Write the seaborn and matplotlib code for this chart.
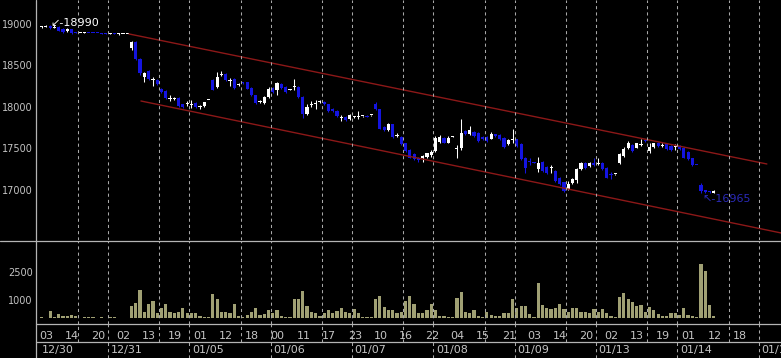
import numpy as np
import pandas as pd
import matplotlib
matplotlib.use("Agg")
import matplotlib.pyplot as plt
import seaborn as sns
from matplotlib.lines import Line2D

# -----------------------------
# Hourly bars 12/30 - 01/14
# -----------------------------
opens = [18965, 18968, 18975, 18955, 18965, 18945, 18910, 18940, 18900, 18892,
         18895, 18893, 18892, 18889, 18888, 18886, 18884, 18886, 18878, 18879,
         18876, 18710, 18780, 18580, 18360, 18430, 18330, 18330, 18220, 18190,
         18095, 18100, 18110, 18030, 18035, 18020, 18050, 18005, 18010, 18085,
         18330, 18240, 18390, 18400, 18310, 18340, 18265, 18300, 18295, 18230,
         18140, 18060, 18050, 18120, 18230, 18210, 18280, 18240, 18205, 18245,
         18240, 18120, 17910, 18020, 18035, 18060, 18060, 18030, 17980, 17950,
         17865, 17880, 17850, 17880, 17875, 17888, 17895, 17898, 18030, 17970,
         17760, 17720, 17790, 17645, 17640, 17560, 17480, 17430, 17390, 17380,
         17400, 17420, 17470, 17580, 17630, 17570, 17638, 17495, 17500, 17710,
         17670, 17700, 17690, 17640, 17640, 17620, 17670, 17660, 17630, 17550,
         17605, 17610, 17550, 17390, 17350, 17332, 17250, 17340, 17280, 17262,
         17230, 17150, 17090, 17010, 17080, 17120, 17250, 17330, 17290, 17330,
         17315, 17330, 17270, 17185, 17188, 17330, 17410, 17500, 17540, 17510,
         17545, 17595, 17470, 17520, 17570, 17535, 17550, 17530, 17515, 17530,
         17510, 17460, 17380, 17302, 17060, 16995, 16985, 16965]
highs = [18975, 18990, 18990, 18985, 18970, 18950, 18950, 18945, 18905, 18895,
         18898, 18895, 18894, 18890, 18889, 18887, 18888, 18887, 18895, 18882,
         18880, 18790, 18790, 18590, 18420, 18440, 18360, 18340, 18230, 18200,
         18140, 18115, 18115, 18035, 18075, 18080, 18055, 18025, 18065, 18090,
         18340, 18420, 18430, 18410, 18350, 18350, 18290, 18305, 18300, 18240,
         18150, 18080, 18130, 18240, 18240, 18300, 18290, 18250, 18215, 18340,
         18250, 18130, 18040, 18070, 18085, 18090, 18070, 18040, 17990, 17960,
         17900, 17890, 17910, 17895, 17950, 17895, 17900, 17905, 18060, 17980,
         17770, 17810, 17800, 17690, 17650, 17570, 17490, 17440, 17400, 17420,
         17450, 17480, 17650, 17660, 17640, 17650, 17645, 17540, 17850, 17720,
         17770, 17710, 17700, 17650, 17650, 17700, 17680, 17670, 17640, 17610,
         17740, 17620, 17560, 17400, 17390, 17335, 17400, 17350, 17290, 17300,
         17240, 17160, 17100, 17110, 17150, 17260, 17340, 17340, 17340, 17380,
         17380, 17340, 17280, 17220, 17192, 17440, 17520, 17590, 17550, 17570,
         17620, 17600, 17560, 17570, 17580, 17560, 17560, 17540, 17550, 17540,
         17520, 17470, 17390, 17305, 17080, 17000, 16990, 16995]
lows = [18955, 18960, 18945, 18950, 18915, 18895, 18905, 18885, 18888, 18890,
        18892, 18888, 18886, 18886, 18884, 18883, 18882, 18879, 18870, 18876,
        18874, 18690, 18570, 18390, 18300, 18330, 18250, 18270, 18170, 18100,
        18070, 18085, 18005, 17990, 18010, 17990, 17990, 17975, 18005, 18080,
        18200, 18230, 18370, 18310, 18250, 18220, 18255, 18280, 18215, 18130,
        18030, 18050, 18040, 18110, 18170, 18150, 18220, 18170, 18200, 18205,
        18110, 17870, 17900, 17995, 17980, 18050, 18020, 17940, 17940, 17880,
        17830, 17830, 17840, 17870, 17860, 17885, 17883, 17895, 17960, 17730,
        17710, 17710, 17630, 17640, 17540, 17460, 17380, 17360, 17340, 17340,
        17380, 17400, 17460, 17560, 17560, 17560, 17635, 17390, 17480, 17660,
        17660, 17640, 17580, 17600, 17580, 17610, 17640, 17600, 17510, 17540,
        17560, 17520, 17360, 17210, 17300, 17325, 17220, 17220, 17190, 17200,
        17100, 17060, 16980, 17000, 17070, 17080, 17240, 17250, 17280, 17290,
        17300, 17240, 17140, 17130, 17185, 17310, 17400, 17490, 17460, 17500,
        17530, 17580, 17440, 17510, 17520, 17520, 17480, 17470, 17480, 17480,
        17380, 17360, 17290, 17295, 16965, 16965, 16965, 16965]
closes = [18965, 18975, 18950, 18962, 18920, 18900, 18940, 18890, 18892, 18892,
          18895, 18890, 18888, 18887, 18885, 18884, 18886, 18880, 18881, 18880,
          18877, 18780, 18580, 18410, 18410, 18340, 18340, 18280, 18180, 18110,
          18105, 18108, 18015, 18000, 18045, 18030, 18000, 18015, 18060, 18088,
          18210, 18360, 18400, 18320, 18320, 18230, 18275, 18285, 18220, 18140,
          18050, 18070, 18120, 18220, 18180, 18290, 18230, 18180, 18210, 18255,
          18120, 17910, 18000, 18030, 18045, 18070, 18030, 17950, 17950, 17890,
          17875, 17840, 17900, 17885, 17885, 17892, 17885, 17902, 17970, 17740,
          17720, 17790, 17640, 17655, 17550, 17470, 17390, 17370, 17360, 17410,
          17440, 17460, 17630, 17640, 17570, 17630, 17642, 17505, 17690, 17670,
          17720, 17650, 17590, 17610, 17590, 17680, 17650, 17610, 17520, 17600,
          17615, 17530, 17370, 17270, 17335, 17328, 17330, 17230, 17200, 17272,
          17110, 17070, 16990, 17070, 17130, 17250, 17330, 17260, 17330, 17300,
          17325, 17250, 17150, 17175, 17190, 17430, 17490, 17560, 17470, 17560,
          17555, 17585, 17520, 17560, 17530, 17545, 17490, 17480, 17525, 17490,
          17390, 17370, 17300, 17298, 16990, 16975, 16970, 16985]
volumes = [40, 0, 380, 40, 200, 110, 110, 160, 110, 0,
           30, 30, 30, 0, 30, 0, 30, 30, 0, 0,
           0, 650, 840, 1530, 330, 780, 930, 260, 550, 770,
           330, 290, 350, 550, 290, 260, 260, 110, 60, 30,
           1310, 1040, 350, 350, 260, 770, 110, 40, 160, 350,
           530, 160, 200, 440, 260, 440, 110, 40, 30, 1040,
           1040, 1475, 650, 310, 260, 110, 290, 440, 260, 400,
           530, 350, 260, 480, 290, 40, 40, 30, 1020, 1200,
           600, 440, 440, 290, 350, 930, 1200, 770, 260, 260,
           440, 770, 440, 110, 110, 40, 30, 1075, 1400, 350,
           260, 440, 110, 40, 350, 160, 110, 110, 260, 260,
           1020, 530, 650, 650, 220, 40, 1930, 710, 560, 475,
           560, 765, 475, 350, 530, 530, 350, 350, 290, 475,
           350, 475, 290, 110, 30, 1130, 1365, 1040, 890, 650,
           710, 350, 580, 440, 220, 110, 110, 260, 260, 160,
           530, 160, 110, 30, 2950, 2585, 710, 110]

hour_labels = ["03", "14", "20", "02", "13", "19", "01", "12", "18", "00",
               "11", "17", "23", "10", "16", "22", "04", "15", "21", "03",
               "14", "20", "02", "13", "19", "01", "12", "18"]
date_labels = ["12/30", "12/31", "01/05", "01/06", "01/07", "01/08",
               "01/09", "01/13", "01/14", "01/15"]
day_start_bars = [0, 16, 35, 54, 73, 92, 111, 130, 149, 168]
session_bars = [9, 28, 47, 66, 85, 104, 123, 142, 161]

# trend channel (bar index, price)
upper_bars = [20.4, 169.4]
upper_prices = [18880, 17313]
lower_bars = [23.2, 172.7]
lower_prices = [18072, 16482]

price_ticks = [17000, 17500, 18000, 18500, 19000]
volume_ticks = [1000, 2500]

df = pd.DataFrame({"bar": np.arange(len(closes)), "open": opens, "high": highs,
                   "low": lows, "close": closes, "volume": volumes})

# -----------------------------
# Style
# -----------------------------
BG = "black"
AXC = "#b4b4b4"
GRID = "#a8a8a8"
TXT = "#c4c4c4"
UP = "white"
DOWN = "#1414e0"
VOL = "#a0a074"
RED = "#8c1818"
FS = 7

sns.set_style("dark", {"axes.facecolor": BG, "figure.facecolor": BG})
plt.rcParams["font.family"] = ["DejaVu Sans"]

W, H = 781, 358
fig = plt.figure(figsize=(W / 100, H / 100), dpi=100)
left = 36 / W
ax = fig.add_axes([left, 1 - 240 / H, 1 - left, 240 / H])
axv = fig.add_axes([left, 1 - 324 / H, 1 - left, 83 / H])
axl = fig.add_axes([left, 0, 1 - left, 34 / H])

xlim = (-1.31, 172.7)

# candles
colors = np.where(df["close"] >= df["open"], UP, DOWN)
ax.vlines(df["bar"], df["low"], df["high"], colors=colors, lw=0.75)
body_lo = df[["open", "close"]].min(axis=1)
body_h = (df["close"] - df["open"]).abs().clip(lower=12)
ax.bar(df["bar"], body_h, bottom=body_lo, width=0.74, color=colors, linewidth=0)

# channel
ax.plot(upper_bars, upper_prices, color=RED, lw=1)
ax.plot(lower_bars, lower_prices, color=RED, lw=1)

# high / low marks
hi_i = int(df["high"].idxmax())
lo_i = int(df["low"].idxmin())
ax.annotate(f"\u2199-{df['high'][hi_i]:.0f}", xy=(hi_i, df["high"][hi_i]),
            xytext=(3, 1), textcoords="offset points", ha="left", va="center",
            color="white", fontsize=8)
ax.annotate(f"\u2196-{df['low'][lo_i]:.0f}", xy=(lo_i, df["low"][lo_i]),
            xytext=(1, -1), textcoords="offset points", ha="left", va="top",
            color="#2a2ab8", fontsize=8)

ax.set_xlim(*xlim)
ax.set_ylim(16397, 19289)
ax.set_yticks(price_ticks, [str(t) for t in price_ticks])
ax.set_xticks([])

# volume
sns.barplot(data=df, x="bar", y="volume", native_scale=True, color=VOL,
            saturation=1, width=0.75, errorbar=None, linewidth=0, ax=axv)
axv.set_xlim(*xlim)
axv.set_ylim(-328, 4208)
axv.set_yticks(volume_ticks, [str(t) for t in volume_ticks])
axv.set_xticks(np.arange(0, 173))
axv.tick_params(axis="x", direction="out", length=2.2, width=0.7,
                color=AXC, labelbottom=False)
axv.set_xlabel("")
axv.set_ylabel("")

for a in (ax, axv, axl):
    a.set_facecolor(BG)
    a.grid(False)
    for s in a.spines.values():
        s.set_visible(False)
    a.tick_params(axis="y", length=0, pad=2.2, labelcolor=TXT, labelsize=FS)

# dashed separators
for b in day_start_bars[1:]:
    for a in (ax, axv):
        a.axvline(b - 0.5, color=GRID, lw=0.75, ls=(0, (3, 3)))
    axl.axvline(b - 0.5, color=GRID, lw=0.75, ls=(0, (3, 3)))
for b in session_bars:
    for a in (ax, axv):
        a.axvline(b - 0.5, color=GRID, lw=0.75, ls=(0, (3, 3)))
    axl.axvline(b - 0.5, ymin=0.47, ymax=1, color=GRID, lw=0.75, ls=(0, (3, 3)))

# label rows
axl.set_xlim(*xlim)
axl.set_ylim(0, 1)
axl.set_xticks([])
axl.set_yticks([])
for k, lab in enumerate(hour_labels):
    axl.text(k * 6 - 0.5, 0.647, lab, ha="left", va="center", color=TXT,
             fontsize=8, clip_on=False)
for s, lab in zip(day_start_bars, date_labels):
    axl.text(s + 0.1, 0.235, lab, ha="left", va="center", color=TXT,
             fontsize=8, clip_on=False)

# frame lines
def fig_line(x0, y0, x1, y1):
    fig.add_artist(Line2D([x0 / W, x1 / W], [1 - y0 / H, 1 - y1 / H],
                          transform=fig.transFigure, color=AXC, lw=0.9))

fig_line(35.5, 0, 35.5, H)
fig_line(0, 240.5, W, 240.5)
fig_line(35.5, 324, W, 324)
fig_line(35.5, 342, W, 342)

fig.savefig("out.png", dpi=100, facecolor=BG)
